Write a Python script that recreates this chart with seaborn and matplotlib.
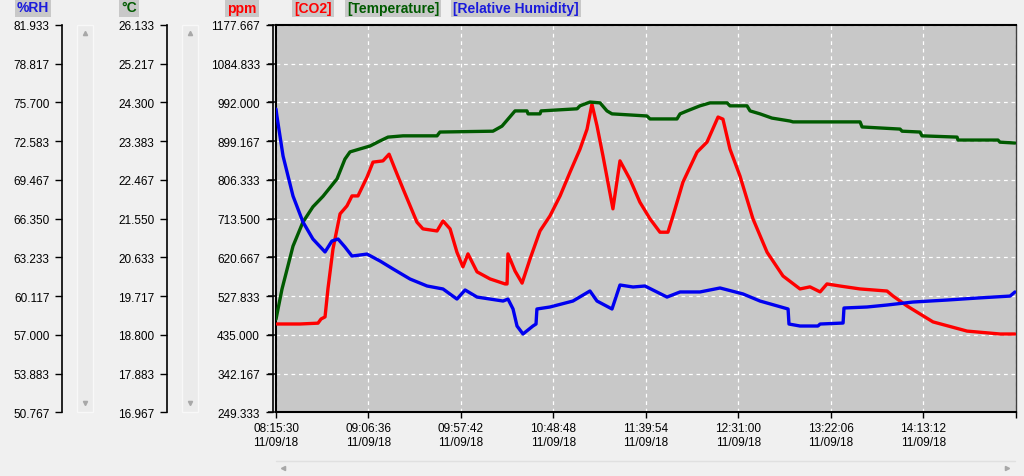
import numpy as np
import pandas as pd
import matplotlib
matplotlib.use("Agg")
import matplotlib.pyplot as plt
import seaborn as sns
from matplotlib.patches import Rectangle
from matplotlib.lines import Line2D

# ---------------- data (time = minutes after 08:15:30) ----------------
co2_t = [0.5, 13.3, 23.2, 24.9, 27.1, 28.7, 31.5, 35.4, 39.2, 42.0, 45.3, 50.3, 53.6, 59.1,
         62.5, 65.8, 70.2, 77.9, 81.2, 89.0, 92.3, 96.2, 100.0, 103.3, 106.1, 111.1, 118.3,
         126.6, 127.7, 128.2, 132.1, 136.0, 140.4, 145.9, 151.4, 157.0, 162.5, 168.0, 171.9,
         174.6, 177.4, 180.7, 186.2, 190.1, 195.6, 201.1, 206.7, 212.2, 216.6, 219.4, 224.9,
         232.7, 238.2, 244.3, 247.0, 250.9, 256.4, 263.6, 271.4, 280.2, 289.6, 295.1, 300.7,
         304.5, 311.7, 322.8, 337.7, 341.0, 348.8, 363.1, 381.9, 400.2, 408.4]
co2_ppm = [461, 461, 463, 473, 478, 545, 641, 725, 744, 768, 768, 813, 849, 852,
           868, 832, 785, 705, 689, 684, 708, 689, 633, 598, 629, 586, 569,
           557, 557, 629, 588, 559, 617, 684, 720, 768, 825, 880, 928,
           988, 936, 864, 737, 852, 808, 753, 713, 681, 681, 720, 801,
           873, 897, 957, 952, 880, 816, 713, 633, 576, 545, 550, 538,
           557, 552, 545, 540, 528, 504, 466, 444, 437, 437]

rh_t = [0.0, 0.5, 3.9, 9.4, 14.9, 20.4, 27.1, 30.9, 34.3, 38.1, 42.0, 50.3, 57.5, 64.7,
        74.1, 83.5, 92.3, 100.0, 104.5, 111.1, 125.5, 128.2, 131.0, 133.2, 136.5, 142.0,
        143.7, 144.2, 151.4, 164.1, 173.5, 177.4, 185.7, 190.1, 197.3, 203.9, 216.1, 223.3,
        234.3, 245.4, 258.1, 267.5, 283.0, 283.5, 289.6, 299.5, 300.7, 313.4, 313.9, 326.6,
        337.7, 352.0, 370.8, 387.4, 405.7, 408.4]
rh_val = [75.17, 74.61, 71.39, 68.17, 66.08, 64.71, 63.67, 64.55, 64.71, 64.07, 63.34, 63.50,
          62.94, 62.30, 61.49, 60.93, 60.69, 59.88, 60.61, 60.04, 59.72, 59.88, 59.08, 57.71,
          57.07, 57.71, 57.87, 59.08, 59.24, 59.72, 60.53, 59.72, 59.08, 61.01, 60.85, 60.93,
          60.04, 60.45, 60.45, 60.77, 60.29, 59.72, 59.08, 57.87, 57.71, 57.71, 57.87, 57.95,
          59.16, 59.24, 59.40, 59.64, 59.80, 59.96, 60.12, 60.45]

temp_t = [0.0, 3.3, 9.4, 14.9, 20.4, 26.0, 33.7, 38.1, 40.9, 46.4, 52.0, 57.5, 61.9, 70.2,
          89.0, 90.6, 119.9, 124.9, 129.3, 132.1, 138.7, 139.3, 145.9, 146.5, 166.4, 168.0,
          173.5, 179.1, 182.9, 185.7, 205.0, 206.7, 221.6, 223.3, 227.2, 234.3, 239.9, 249.3,
          250.9, 260.3, 262.0, 267.5, 274.1, 284.1, 285.7, 322.8, 323.9, 344.9, 346.0, 355.9,
          357.0, 376.4, 376.9, 399.0, 400.1, 408.4]
temp_val = [19.17, 19.88, 20.90, 21.47, 21.83, 22.08, 22.49, 22.96, 23.13, 23.20, 23.27, 23.39,
            23.48, 23.51, 23.51, 23.60, 23.62, 23.74, 23.96, 24.10, 24.10, 24.03, 24.03, 24.10,
            24.15, 24.22, 24.31, 24.29, 24.10, 24.03, 23.98, 23.91, 23.91, 24.03, 24.10, 24.22,
            24.29, 24.29, 24.22, 24.22, 24.10, 24.03, 23.93, 23.86, 23.84, 23.84, 23.72, 23.67,
            23.62, 23.60, 23.51, 23.48, 23.41, 23.41, 23.36, 23.34]

x_tick_times = ["08:15:30", "09:06:36", "09:57:42", "10:48:48", "11:39:54",
                "12:31:00", "13:22:06", "14:13:12"]
x_end_time = "15:04:18"
x_tick_date = "11/09/18"

ppm_range = (249.333333, 1177.666667)
temp_range = (16.966667, 26.133333)
rh_range = (50.766667, 81.933333)

series_names = ["[CO2]", "[Temperature]", "[Relative Humidity]"]
unit_labels = ["%RH", "°C", "ppm"]

# ---------------- style ----------------
sns.set_theme(style="white")
plt.rcParams["font.family"] = ["Liberation Sans", "DejaVu Sans"]

RED = "#ff0000"
GREEN = "#005a00"
BLUE = "#0000f0"
BG = "#f0f0f0"
PLOTBG = "#c8c8c8"
TICKFS = 8.5

W, H = 1024, 477
fig = plt.figure(figsize=(W / 100, H / 100), dpi=100, facecolor=BG)


def fx(px):
    return px / W


def fy(py):
    return 1 - py / H


top, bot = 26, 413.3
left, right = 276, 1015.7

ax = fig.add_axes([fx(left), fy(bot), fx(right - left), (bot - top) / H])
ax.set_facecolor(PLOTBG)

t0 = pd.Timedelta(x_tick_times[0])
tick_pos = [(pd.Timedelta(s) - t0).total_seconds() / 60 for s in x_tick_times]
x_end = (pd.Timedelta(x_end_time) - t0).total_seconds() / 60

# CO2 on main axis
sns.lineplot(x=co2_t, y=co2_ppm, ax=ax, color=RED, linewidth=2.4, zorder=3)
ax.set_xlim(0, x_end)
ax.set_ylim(*ppm_range)
ax.set_yticks(np.linspace(*ppm_range, 11))
ax.set_xticks(tick_pos + [x_end])
ax.set_xticklabels([f"{s}\n{x_tick_date}" for s in x_tick_times] + [""], fontsize=TICKFS)
ax.tick_params(axis="x", direction="out", length=4, width=1, pad=3, colors="black",
               bottom=True)
ax.tick_params(axis="y", left=False, labelleft=False)
ax.grid(True, color="white", linestyle=(0, (3, 3)), linewidth=0.9)
for s in ax.spines.values():
    s.set_color("black")
    s.set_linewidth(1.5)
ax.spines["right"].set_color("#404040")
ax.spines["right"].set_linewidth(1.0)
ax.set_xlabel("")
ax.set_ylabel("")

# temperature and RH on twin axes
ax_t = ax.twinx()
sns.lineplot(x=temp_t, y=temp_val, ax=ax_t, color=GREEN, linewidth=2.4)
ax_t.set_ylim(*temp_range)
ax_r = ax.twinx()
sns.lineplot(x=rh_t, y=rh_val, ax=ax_r, color=BLUE, linewidth=2.4)
ax_r.set_ylim(*rh_range)
for a in (ax_t, ax_r):
    a.set_xlim(0, x_end)
    a.set_yticks([])
    a.set_ylabel("")
    a.patch.set_visible(False)
    for s in a.spines.values():
        s.set_visible(False)


# ---------------- scale axes on the left ----------------
def scale_axis(xpx, rng):
    a = fig.add_axes([fx(xpx), fy(bot), 0.0005, (bot - top) / H])
    a.set_ylim(*rng)
    ticks = np.linspace(*rng, 11)
    a.set_yticks(ticks)
    a.set_yticklabels([f"{v:.3f}" for v in ticks], fontsize=TICKFS)
    a.set_xticks([])
    a.patch.set_visible(False)
    for s in ["top", "right", "bottom"]:
        a.spines[s].set_visible(False)
    a.spines["left"].set_color("black")
    a.spines["left"].set_linewidth(1.2)
    a.tick_params(axis="y", direction="out", length=5, width=1, pad=4, colors="black",
                  left=True)
    return a


scale_axis(62, rh_range)
scale_axis(167, temp_range)
scale_axis(272.5, ppm_range)

# ---------------- scrollbars ----------------
for x0 in (77, 182):
    fig.add_artist(Rectangle((fx(x0), fy(413)), fx(16), (413 - 26) / H,
                             transform=fig.transFigure, facecolor="#ebebeb",
                             edgecolor="#f8f8f8", linewidth=1))
    fig.add_artist(Line2D([fx(x0 + 8)], [fy(34)], marker="^", markersize=3,
                          color="#a8a8a8", transform=fig.transFigure))
    fig.add_artist(Line2D([fx(x0 + 8)], [fy(404)], marker="v", markersize=3,
                          color="#a8a8a8", transform=fig.transFigure))

fig.add_artist(Line2D([fx(276), fx(1015)], [fy(462), fy(462)], color="#e0e0e0",
                      linewidth=1, transform=fig.transFigure))
fig.add_artist(Line2D([fx(283)], [fy(469)], marker="<", markersize=3,
                      color="#a8a8a8", transform=fig.transFigure))
fig.add_artist(Line2D([fx(1007)], [fy(469)], marker=">", markersize=3,
                      color="#a8a8a8", transform=fig.transFigure))

# ---------------- headers / legend ----------------
box = dict(facecolor="#c8c8c8", edgecolor="none", pad=1.5)
hdr = dict(fontsize=10, fontweight="bold", ha="center", va="center", bbox=box)
fig.text(fx(33), fy(8.5), unit_labels[0], color="#1a1adc", **hdr)
fig.text(fx(129), fy(8.5), unit_labels[1], color="#005a00", **hdr)
fig.text(fx(242), fy(8.5), unit_labels[2], color=RED, **hdr)

fig.text(fx(313), fy(8.5), series_names[0], color=RED, **hdr)
fig.text(fx(393), fy(8.5), series_names[1], color="#005a00", **hdr)
fig.text(fx(516), fy(8.5), series_names[2], color="#1a1adc", **hdr)

fig.savefig("out.png", dpi=100, facecolor=BG)
